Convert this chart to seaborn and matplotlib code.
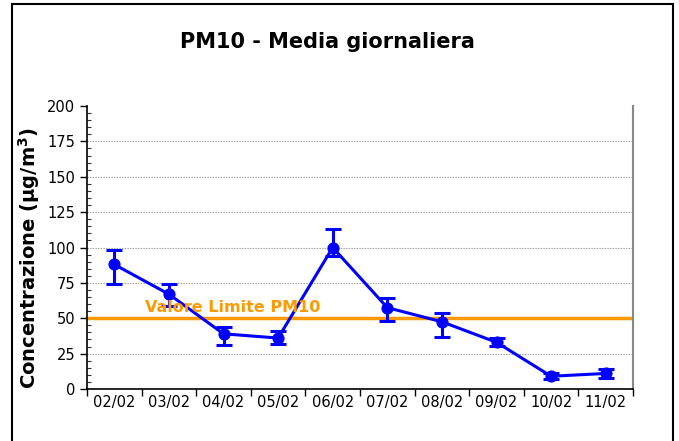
import matplotlib
matplotlib.use("Agg")
import matplotlib.pyplot as plt
import matplotlib.patches as mpatches
from matplotlib.ticker import MultipleLocator, FixedLocator
import seaborn as sns
import pandas as pd
import numpy as np

days = ["02/02", "03/02", "04/02", "05/02", "06/02", "07/02", "08/02", "09/02", "10/02", "11/02"]
mean_vals = [88, 67, 39, 36, 100, 57.5, 47.5, 33, 9, 11]
upper_vals = [98, 74, 44, 41, 113, 64, 54, 36, 11.5, 14]
lower_vals = [74, 59, 31, 32, 94, 48, 37, 30.5, 7, 8]
limit_value = 50
limit_label = "Valore Limite PM10"
title = "PM10 - Media giornaliera"
ylabel = "Concentrazione (µg/m$^\\mathbf{3}$)"

sns.set_theme(style="white")
plt.rcParams["font.family"] = ["DejaVu Sans"]
plt.rcParams["text.color"] = "black"
plt.rcParams["axes.labelcolor"] = "black"

fig = plt.figure(figsize=(6.79, 4.41), dpi=100)
ax = fig.add_axes([87/679, 1-389/441, (633-87)/679, (389-106)/441])

df = pd.DataFrame({"day": days, "val": mean_vals})
x = np.arange(len(days))

for g in [25, 75, 100, 125, 150, 175]:
    ax.axhline(g, color="#999999", lw=0.8, ls=(0, (1.2, 1.2)), zorder=1)

ax.axhline(limit_value, color="#FF9900", lw=2.5, zorder=2)

err_lo = np.array(mean_vals) - np.array(lower_vals)
err_hi = np.array(upper_vals) - np.array(mean_vals)
ax.errorbar(x, mean_vals, yerr=[err_lo, err_hi], fmt="none", ecolor="#0000FF",
            elinewidth=2.2, capsize=6, capthick=2.2, zorder=3)
sns.lineplot(data=df, x=x, y="val", ax=ax, color="#0000FF", lw=2.2,
             marker="o", markersize=8, markeredgecolor="#0000FF", zorder=4)

ax.text(0.57, limit_value + 2.5, limit_label, color="#FF9900", fontsize=11.5,
        fontweight="bold", ha="left", va="bottom", zorder=5)

ax.set_xlim(-0.5, len(days) - 0.5)
ax.set_ylim(0, 200)
ax.set_xticks(x)
ax.set_xticklabels(days, fontsize=10.5, color="black")
ax.xaxis.set_minor_locator(FixedLocator(np.arange(-0.5, len(days), 1.0)))
ax.tick_params(axis="x", which="major", length=0, pad=4)
ax.tick_params(axis="x", which="minor", length=5, direction="out", color="black", width=1)
ax.yaxis.set_major_locator(MultipleLocator(25))
ax.yaxis.set_minor_locator(MultipleLocator(5))
ax.tick_params(axis="y", which="major", length=5, direction="out", labelsize=10.5, colors="black", width=1)
ax.tick_params(axis="y", which="minor", length=3, direction="in", width=0.8, color="#333333")
ax.tick_params(axis="y", which="both", left=True)
ax.tick_params(axis="x", which="both", bottom=True)

ax.set_xlabel("")
ax.set_ylabel(ylabel, fontsize=14, fontweight="bold", color="black")
ax.yaxis.set_label_coords(-0.083, 0.461)
for s in ["left", "bottom"]:
    ax.spines[s].set_color("black")
    ax.spines[s].set_linewidth(1.2)
ax.spines["top"].set_visible(False)
ax.spines["right"].set_color("#888888")
ax.spines["right"].set_linewidth(1.5)

fig.text(327/679, 1-42/441, title, fontsize=15, fontweight="bold", ha="center",
         va="center", color="black")

frame = mpatches.Rectangle((11.5/679, -0.2), (673-11.5)/679, 1.2 - 4/441,
                           transform=fig.transFigure, fill=False, edgecolor="black",
                           lw=1.5, clip_on=False)
fig.patches.append(frame)

fig.savefig("out.png", dpi=100)
